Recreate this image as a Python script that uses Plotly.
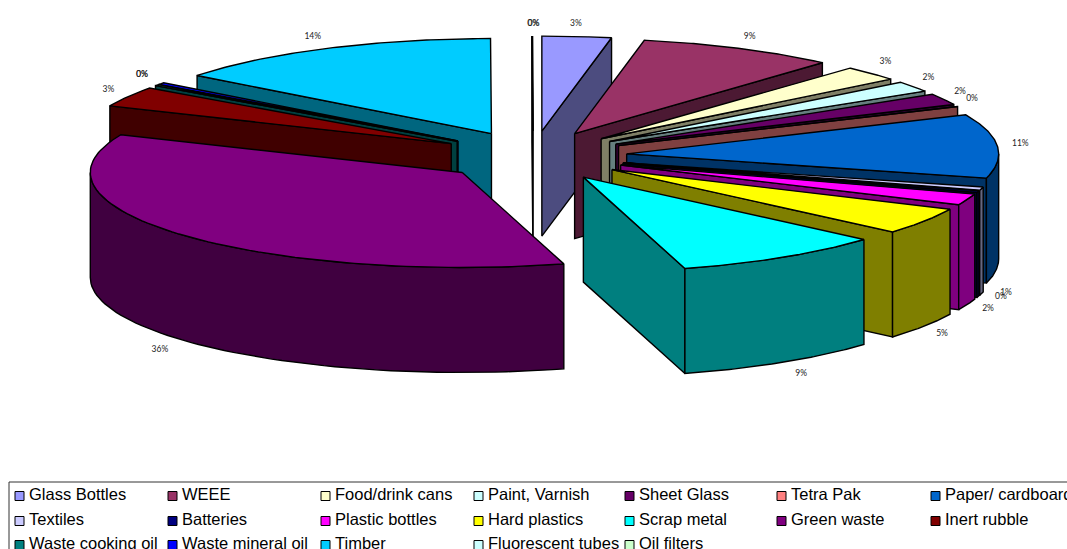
import numpy as np
import plotly.graph_objects as go

# Share of each waste stream, in percent, clockwise from 12 o'clock
categories = ["Glass Bottles", "WEEE", "Food/drink cans", "Paint, Varnish", "Sheet Glass",
              "Tetra Pak", "Paper/ cardboard", "Textiles", "Batteries", "Plastic bottles",
              "Hard plastics", "Scrap metal", "Green waste", "Inert rubble",
              "Waste cooking oil", "Waste mineral oil", "Timber", "Fluorescent tubes", "Oil filters"]
shares = [3.0, 8.6, 2.6, 1.9, 2.05, 0.1, 10.85, 0.55, 0.3, 1.9, 4.55, 9.2, 35.9, 3.45,
          0.2, 0.32, 14.49, 0.02, 0.02]
colors = ["#9999FF", "#993366", "#FFFFCC", "#CCFFFF", "#660066", "#FF8080", "#0066CC",
          "#CCCCFF", "#000080", "#FF00FF", "#FFFF00", "#00FFFF", "#800080", "#800000",
          "#008080", "#0000FF", "#00CCFF", "#CCFFFF", "#CCFFCC"]

# Projected pie geometry, in canvas pixels
CX, CY = 533, 156
RX, RY = 372, 95
EX, EY = 94, 25
DEPTH = 105
W, H = 1067, 549

# Fine placement of the percentage labels relative to their radial anchor
label_nudge = [(-2, -0.6), (5, -0.7), (6, -3), (6, -1.4), (6.4, -1.3), (4, -2), (11, -1), (13, -3.8),
               (11.5, -3), (9.5, 0), (7.5, 1.4), (12, 1.6), (-13.5, 2), (-9, -0.6), (-5, -3), (-10, -1.4),
               (-9, -0.7), (1, 0), (1, 0)]

# Legend grid
legend_cols = [15, 168, 321, 474, 625, 777, 931]
legend_rows = [496, 521, 545]


def darker(hex_color):
    r, g, b = (int(hex_color[i:i + 2], 16) // 2 for i in (1, 3, 5))
    return f"#{r:02X}{g:02X}{b:02X}"


fig = go.Figure()


def polygon(xs, ys, fill):
    fig.add_trace(go.Scatter(
        x=list(xs) + [xs[0]], y=list(ys) + [ys[0]], mode="lines", fill="toself", fillcolor=fill,
        line=dict(color="black", width=1.4), hoverinfo="skip", showlegend=False))


edges = np.concatenate([[0], np.cumsum(shares)]) / sum(shares) * 2 * np.pi
wedges = []
for i, color in enumerate(colors):
    a1, a2 = edges[i], edges[i + 1]
    mid = (a1 + a2) / 2
    tip_x = CX + EX * np.sin(mid)
    tip_y = CY - EY * np.cos(mid)
    wedges.append((i, a1, a2, mid, tip_x, tip_y, color))


def draw_wedge(i, a1, a2, mid, tx, ty, color):
    side = darker(color)

    def rim_point(a):
        return tx + RX * np.sin(a), ty - RY * np.cos(a)

    # Cut face turned toward the viewer
    visible_cut = a2 if np.sin(a2) > 0 else (a1 if np.sin(a1) < 0 else None)
    if visible_cut is not None:
        ex, ey = rim_point(visible_cut)
        polygon([tx, ex, ex, tx], [ty, ey, ey + DEPTH, ty + DEPTH], side)

    # Outer wall on the near half of the ellipse
    lo, hi = max(a1, np.pi / 2), min(a2, 3 * np.pi / 2)
    if hi > lo:
        t = np.linspace(lo, hi, 60)
        rx, ry = rim_point(t)
        polygon(np.concatenate([rx, rx[::-1]]), np.concatenate([ry, ry[::-1] + DEPTH]), side)

    # Top surface
    t = np.linspace(a1, a2, 80)
    rx, ry = rim_point(t)
    polygon(np.concatenate([[tx], rx]), np.concatenate([[ty], ry]), color)


# Back-to-front: left half from the top down to the front, then the right half
left = [12, 13, 14, 15, 16, 17, 18][::-1]
right = list(range(12))
for idx in left + right:
    draw_wedge(*wedges[idx])

# Percentage labels, two near-zero neighbours overprint each other
lx, ly, lt = [], [], []
for (i, a1, a2, mid, tx, ty, color), (nx, ny), share in zip(wedges, label_nudge, shares):
    lx.append(tx + (RX + 12) * np.sin(mid) + nx)
    ly.append(ty - (RY + 12) * np.cos(mid) + (DEPTH if np.cos(mid) < 0 else 0) + ny)
    lt.append(f"{round(share)}%")
fig.add_trace(go.Scatter(x=lx, y=ly, text=lt, mode="text", textposition="middle center",
                         textfont=dict(family="Lato", size=8.5, color="#222222"),
                         hoverinfo="skip", showlegend=False))

# Legend frame and entries
fig.add_shape(type="rect", x0=9, x1=W + 40, y0=482, y1=H + 40, line=dict(color="#333333", width=1),
              fillcolor="white", layer="below")
n_cols = len(legend_cols)
for k, (name, color) in enumerate(zip(categories, colors)):
    col_x = legend_cols[k % n_cols]
    row_y = legend_rows[k // n_cols]
    fig.add_trace(go.Scatter(x=[col_x + 4.5], y=[row_y], mode="markers",
                             marker=dict(symbol="square", size=9, color=color,
                                         line=dict(color="black", width=1)),
                             hoverinfo="skip", showlegend=False))
    fig.add_trace(go.Scatter(x=[col_x + 14], y=[row_y], mode="text", text=[name],
                             textposition="middle right",
                             textfont=dict(family="Liberation Sans", size=16.5, color="black"),
                             hoverinfo="skip", showlegend=False))

fig.update_layout(
    width=W, height=H, autosize=False, margin=dict(l=0, r=0, t=0, b=0),
    paper_bgcolor="white", plot_bgcolor="white", showlegend=False,
    xaxis=dict(range=[0, W], visible=False, fixedrange=True),
    yaxis=dict(range=[H, 0], visible=False, fixedrange=True),
)
fig.write_html("out.html", config=dict(displayModeBar=False))
